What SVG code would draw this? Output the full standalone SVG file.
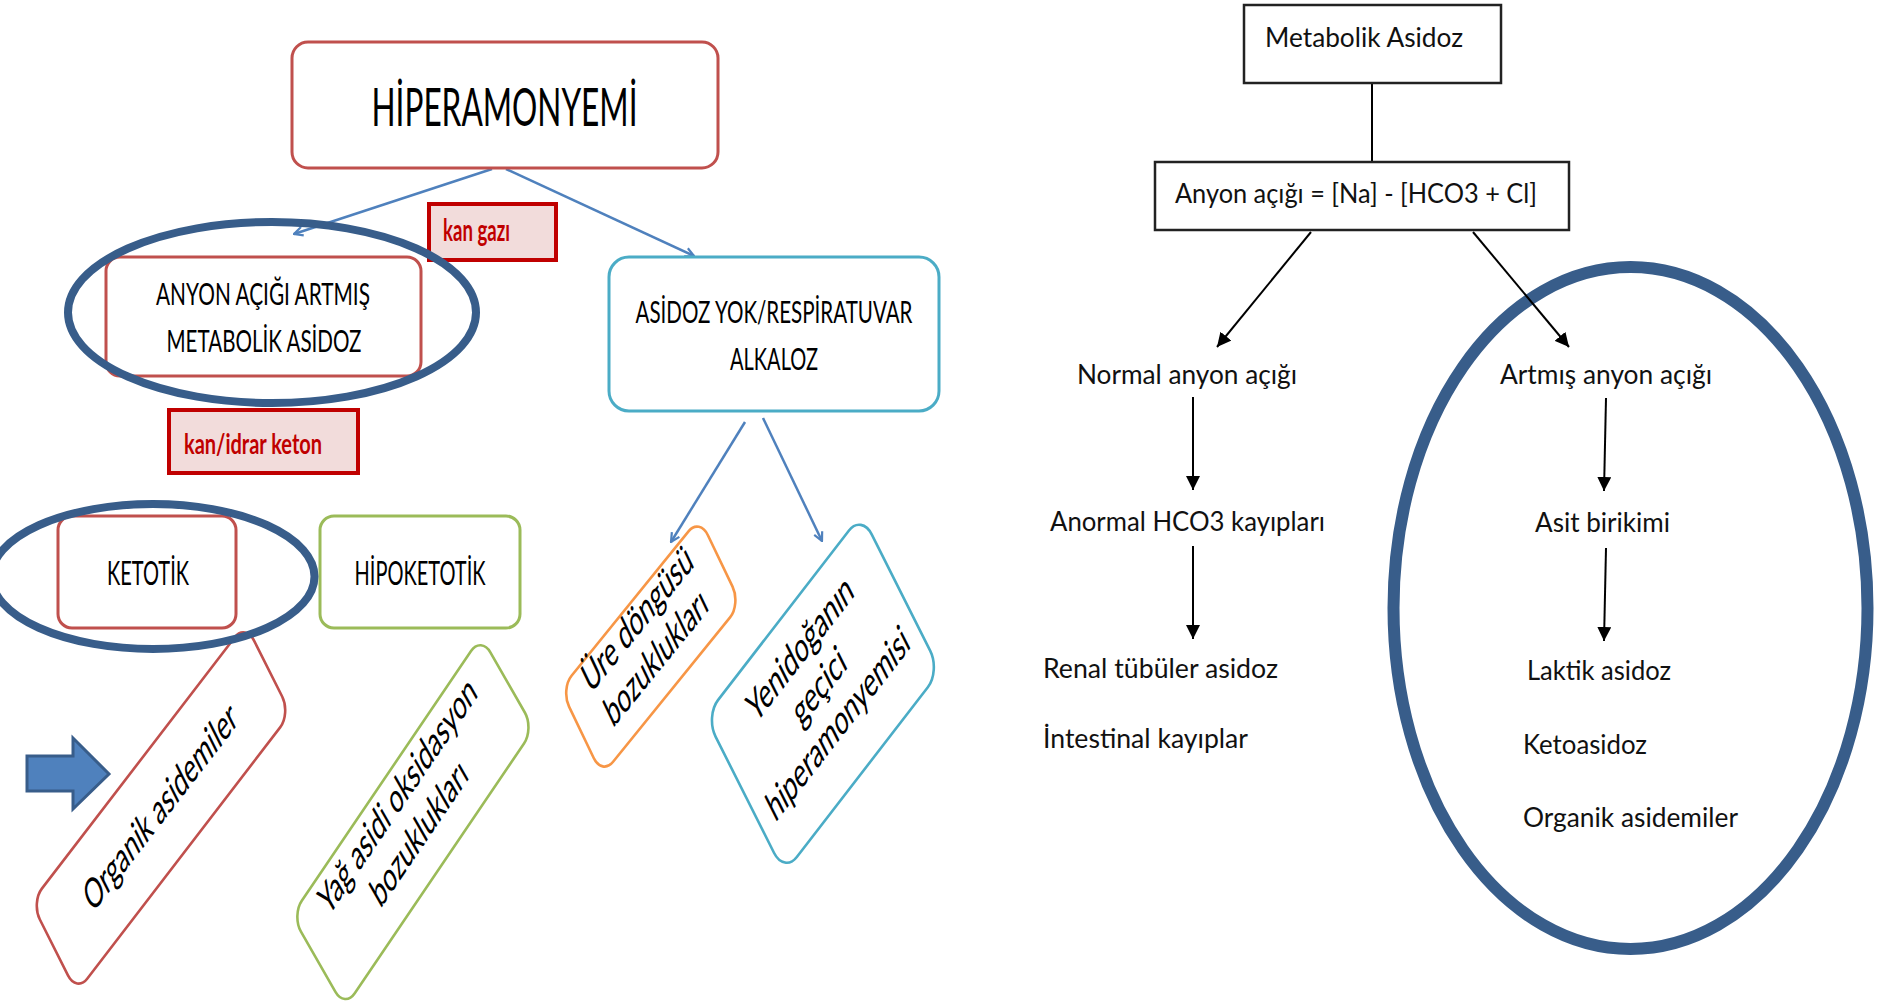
<svg xmlns="http://www.w3.org/2000/svg" width="1878" height="1008" viewBox="0 0 1878 1008">
  <defs>
    <style>
      .lbl { font-family: Lato, "Open Sans", "Liberation Sans", sans-serif; fill: #000; }
      .box { fill: #fff; stroke-width: 3; }
      .red { stroke: #c0504d; }
      .green { stroke: #9bbb59; }
      .orange { stroke: #f79646; }
      .cyan { stroke: #4bacc6; }
      .tilted rect { fill: #fff; stroke-width: 2.6; vector-effect: non-scaling-stroke; }
      .tilted text { font-family: Lato, "Open Sans", "Liberation Sans", sans-serif; font-size: 43px; text-anchor: middle; fill: #000; }
      .tag rect { fill: #f2dcdb; stroke: #c00000; stroke-width: 4; }
      .tag text { font-family: Lato, "Open Sans", "Liberation Sans", sans-serif; font-weight: bold; fill: #c00000; }
      .ring { fill: none; stroke: #385d8a; }
      .blue-link { fill: none; stroke: #4f81bd; stroke-width: 2.5; marker-end: url(#openArrow); }
      .black-link { fill: none; stroke: #000; stroke-width: 2; }
      .arrowed { marker-end: url(#solidArrow); }
      .rbox { fill: #fff; stroke: #222; stroke-width: 2.5; }
      .rt { font-family: Lato, "Open Sans", "Liberation Sans", sans-serif; font-size: 26px; fill: #111; }
    </style>
    <marker id="openArrow" viewBox="0 0 10 10" refX="9" refY="5" markerWidth="11" markerHeight="11" markerUnits="userSpaceOnUse" orient="auto">
      <path d="M1,1 L9,5 L1,9" fill="none" stroke="#4f81bd" stroke-width="2"/>
    </marker>
    <marker id="solidArrow" viewBox="0 0 14 14" refX="14" refY="7" markerWidth="14" markerHeight="14" markerUnits="userSpaceOnUse" orient="auto">
      <path d="M0,0 L14,7 L0,14 z" fill="#000"/>
    </marker>
  </defs>

  <rect width="1878" height="1008" fill="#fff"/>

  <!-- ===== Left chart: hyperammonaemia ===== -->
  <g id="connectors-left">
    <line class="blue-link" x1="492" y1="169" x2="294" y2="234"/>
    <line class="blue-link" x1="506" y1="169" x2="694" y2="256"/>
    <line class="blue-link" x1="745" y1="422" x2="671" y2="542"/>
    <line class="blue-link" x1="763" y1="418" x2="822" y2="541"/>
  </g>

  <g id="n-hiperamonyemi">
    <rect class="box red" x="292" y="42" width="426" height="126" rx="16"/>
    <text class="lbl" x="504.5" y="126" font-size="53" text-anchor="middle" textLength="266" lengthAdjust="spacingAndGlyphs">HİPERAMONYEMİ</text>
  </g>

  <g id="n-anyon-artmis">
    <rect class="box red" x="106" y="257" width="315" height="119" rx="14"/>
    <text class="lbl" x="263" y="305" font-size="31" text-anchor="middle" textLength="214" lengthAdjust="spacingAndGlyphs">ANYON AÇIĞI ARTMIŞ</text>
    <text class="lbl" x="264" y="352" font-size="31" text-anchor="middle" textLength="195" lengthAdjust="spacingAndGlyphs">METABOLİK ASİDOZ</text>
  </g>

  <g id="n-asidoz-yok">
    <rect class="box cyan" x="609" y="257" width="330" height="154" rx="20"/>
    <text class="lbl" x="774" y="323" font-size="31" text-anchor="middle" textLength="277" lengthAdjust="spacingAndGlyphs">ASİDOZ YOK/RESPİRATUVAR</text>
    <text class="lbl" x="774" y="370" font-size="31" text-anchor="middle" textLength="88" lengthAdjust="spacingAndGlyphs">ALKALOZ</text>
  </g>

  <g id="tag-kan-gazi" class="tag">
    <rect x="429" y="204" width="127" height="56"/>
    <text x="443" y="241" font-size="30" textLength="67" lengthAdjust="spacingAndGlyphs">kan gazı</text>
  </g>

  <g id="tag-kan-idrar-keton" class="tag">
    <rect x="169" y="410" width="189" height="63"/>
    <text x="184" y="454" font-size="29" textLength="138" lengthAdjust="spacingAndGlyphs">kan/idrar keton</text>
  </g>

  <g id="n-ketotik">
    <rect class="box red" x="58" y="516" width="178" height="112" rx="14"/>
    <text class="lbl" x="148" y="585" font-size="32" text-anchor="middle" textLength="82" lengthAdjust="spacingAndGlyphs">KETOTİK</text>
  </g>

  <g id="n-hipoketotik">
    <rect class="box green" x="320" y="516" width="200" height="112" rx="14"/>
    <text class="lbl" x="420" y="585" font-size="32" text-anchor="middle" textLength="131" lengthAdjust="spacingAndGlyphs">HİPOKETOTİK</text>
  </g>

  <!-- tilted boxes: drawn in a local frame, mapped by an affine matrix -->
  <g id="n-organik-asidemiler" class="tilted" transform="matrix(0.4824,-0.6283,0.3907,0.7767,161,808)">
    <rect class="red" x="-222" y="-58" width="444" height="116" rx="22"/>
    <text x="0" y="13" textLength="304" lengthAdjust="spacingAndGlyphs">Organik asidemiler</text>
  </g>

  <g id="n-yag-asidi" class="tilted" transform="matrix(0.4575,-0.6749,0.4204,0.7344,412.9,822.1)">
    <rect class="green" x="-207" y="-63" width="414" height="126" rx="22"/>
    <text x="0" y="-22" textLength="328" lengthAdjust="spacingAndGlyphs">Yağ asidi oksidasyon</text>
    <text x="0" y="29" textLength="195" lengthAdjust="spacingAndGlyphs">bozuklukları</text>
  </g>

  <g id="n-ure-dongusu" class="tilted" transform="matrix(0.4923,-0.6077,0.3793,0.7913,650.8,646.6)">
    <rect class="orange" x="-141" y="-54.5" width="282" height="109" rx="22"/>
    <text x="0" y="-21" textLength="212" lengthAdjust="spacingAndGlyphs">Üre döngüsü</text>
    <text x="0" y="28" textLength="197" lengthAdjust="spacingAndGlyphs">bozuklukları</text>
  </g>

  <g id="n-yenidogan" class="tilted" transform="matrix(0.4834,-0.6260,0.3903,0.7765,822.9,693.7)">
    <rect class="cyan" x="-161.5" y="-101" width="323" height="202" rx="26"/>
    <text x="0" y="-44" textLength="206" lengthAdjust="spacingAndGlyphs">Yenidoğanın</text>
    <text x="0" y="5" textLength="98" lengthAdjust="spacingAndGlyphs">geçici</text>
    <text x="0" y="53" textLength="282" lengthAdjust="spacingAndGlyphs">hiperamonyemisi</text>
  </g>

  <!-- emphasis rings and pointer -->
  <g id="highlights-left">
    <ellipse class="ring" cx="272" cy="312.5" rx="204" ry="90.5" stroke-width="8"/>
    <ellipse class="ring" cx="153" cy="576.5" rx="161.5" ry="72.5" stroke-width="8"/>
    <polygon points="27,756 73,756 73,738 109,774 73,809 73,791 27,791" fill="#4f81bd" stroke="#385d8a" stroke-width="3" stroke-linejoin="miter"/>
  </g>

  <!-- ===== Right chart: metabolic acidosis ===== -->
  <g id="highlight-right">
    <ellipse class="ring" cx="1630.5" cy="608" rx="237" ry="341" stroke-width="12"/>
  </g>

  <g id="connectors-right">
    <line class="black-link" x1="1372" y1="83" x2="1372" y2="162"/>
    <line class="black-link arrowed" x1="1311" y1="232" x2="1217" y2="347"/>
    <line class="black-link arrowed" x1="1473" y1="232" x2="1569" y2="347"/>
    <line class="black-link arrowed" x1="1193" y1="397" x2="1193" y2="490"/>
    <line class="black-link arrowed" x1="1193" y1="546" x2="1193" y2="639"/>
    <line class="black-link arrowed" x1="1606" y1="398" x2="1604" y2="491"/>
    <line class="black-link arrowed" x1="1606" y1="548" x2="1604" y2="641"/>
  </g>

  <g id="n-metabolik-asidoz">
    <rect class="rbox" x="1244" y="5" width="257" height="78"/>
    <text class="rt" x="1265" y="47" font-size="25" textLength="198" lengthAdjust="spacingAndGlyphs">Metabolik Asidoz</text>
  </g>

  <g id="n-anyon-acigi">
    <rect class="rbox" x="1155" y="162" width="414" height="68"/>
    <text class="rt" x="1175" y="203" textLength="362" lengthAdjust="spacingAndGlyphs">Anyon açığı = [Na] - [HCO3 + Cl]</text>
  </g>

  <g id="n-normal-anyon">
    <text class="rt" x="1077" y="384" textLength="220" lengthAdjust="spacingAndGlyphs">Normal anyon açığı</text>
  </g>
  <g id="n-anormal-hco3">
    <text class="rt" x="1050" y="531" textLength="275" lengthAdjust="spacingAndGlyphs">Anormal HCO3 kayıpları</text>
  </g>
  <g id="n-normal-causes">
    <text class="rt" x="1043" y="678" textLength="235" lengthAdjust="spacingAndGlyphs">Renal tübüler asidoz</text>
    <text class="rt" x="1043" y="748" textLength="205" lengthAdjust="spacingAndGlyphs">İntestinal kayıplar</text>
  </g>

  <g id="n-artmis-anyon">
    <text class="rt" x="1500" y="384" textLength="212" lengthAdjust="spacingAndGlyphs">Artmış anyon açığı</text>
  </g>
  <g id="n-asit-birikimi">
    <text class="rt" x="1535" y="532" textLength="135" lengthAdjust="spacingAndGlyphs">Asit birikimi</text>
  </g>
  <g id="n-artmis-causes">
    <text class="rt" x="1527" y="680" textLength="144" lengthAdjust="spacingAndGlyphs">Laktik asidoz</text>
    <text class="rt" x="1523" y="754" textLength="124" lengthAdjust="spacingAndGlyphs">Ketoasidoz</text>
    <text class="rt" x="1523" y="827" textLength="215" lengthAdjust="spacingAndGlyphs">Organik asidemiler</text>
  </g>
</svg>
